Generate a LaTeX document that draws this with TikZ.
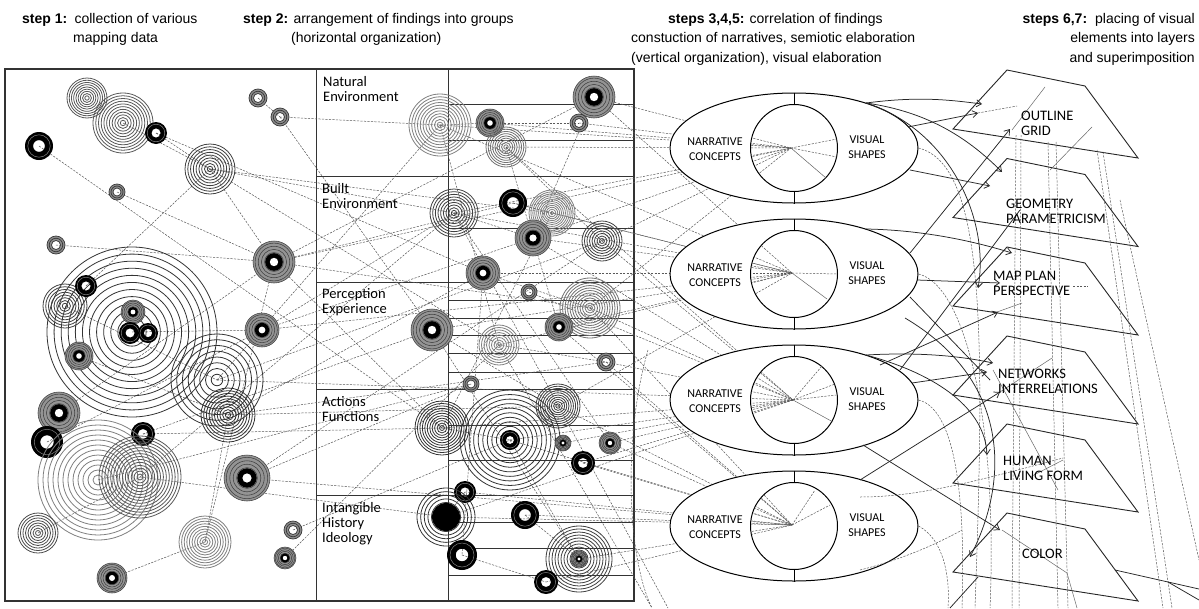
\documentclass[tikz,border=0pt]{standalone}
\usepackage{fontspec}
\setmainfont{Liberation Sans}
\newfontfamily\calib{Carlito}
\usetikzlibrary{arrows.meta,shapes.geometric,calc}
% concentric rings: name, rmax, n, colour
\newcommand\rg[4]{\foreach \k in {1,...,#3}{\draw[#4,line width=0.8pt] (#1) circle ({#2*\k/#3});}}
% dark cluster
\newcommand\dk[2]{\fill[black!42] (#1) circle (#2);
  \foreach \k in {0.3,0.45,0.6,0.75,0.9,1}{\draw[black!75,line width=0.55pt] (#1) circle ({#2*\k});}
  \fill[black] (#1) circle ({#2*0.42}); \fill[white] (#1) circle ({#2*0.2});}
% black donut
\newcommand\dn[2]{\fill[black,even odd rule] (#1) circle (#2) (#1) circle ({#2*0.42});
  \draw[black!50,line width=0.5pt] (#1) circle ({#2*0.8});}
% grey donut
\newcommand\gd[2]{\fill[black!45,even odd rule] (#1) circle (#2) (#1) circle ({#2*0.5});
  \draw[black!78,line width=0.7pt] (#1) circle (#2) (#1) circle ({#2*0.5}) (#1) circle ({#2*0.75});}
% connectors into the four ellipses
\newcommand\EOne{\foreach \s in {c33,c34,c30,c32,c31,c39,c42,c35,c10,c38}{\draw[conn] (\s) -- (f1);}}
\newcommand\ETwo{\foreach \s in {c35,c37,c38,c40,c44,c45,c50,c36,c43,c15,c33,c30}{\draw[conn] (\s) -- (f2);}}
\newcommand\EThree{\foreach \s in {c41,c42,c46,c48,c49,c51,c52,c53,c32,c17,c39,c38,c55}{\draw[conn] (\s) -- (f3);}}
\newcommand\EFour{\foreach \s in {c49,c50,c55,c56,c58,c59,c53,c54,c24,c42,c44,c46,c52}{\draw[conn] (\s) -- (f4);}}
\begin{document}
\begin{tikzpicture}[x=1pt,y=-1pt,
  conn/.style={black!65,line width=0.5pt,dash pattern=on 2.2pt off 1.3pt},
  frm/.style={black!80,line width=1.1pt},
  tbl/.style={black!80,line width=0.9pt},
  arr/.style={black!85,line width=0.75pt,-{Straight Barb[length=5pt,width=7pt]}},
  sol/.style={black!85,line width=0.75pt},
  gry/.style={black!60,line width=0.5pt},
  hd/.style={inner sep=0pt,font=\fontsize{14}{16}\selectfont},
  lab/.style={inner sep=0pt,font=\calib\fontsize{14.5}{15}\selectfont},
  el/.style={inner sep=0pt,font=\calib\fontsize{12}{14}\selectfont},
  pl/.style={inner sep=0pt,font=\calib\fontsize{14.5}{15}\selectfont},
  plane/.style={black!85,line width=0.9pt,line join=miter}]
\fill[white] (0,0) rectangle (1199,608);
\useasboundingbox (0,0) rectangle (1199,608);

% ---------- coordinates of ring clusters ----------
\foreach \n/\x/\y in {c1/87/98,c2/123/123,c3/156/133,c4/39/146,c5/258/98,c6/280/117,c7/210/169,
  c8/117/192,c9/56/245,c10/274/262,c11/132/332,c12/86/286,c13/65/306,c14/133/312,c14b/130/333,c14c/148/333,
  c15/262/330,c16/79/356,c17/217/380,c18/228/415,c19/59/413,c20/47/442,c21/143/434,c22/98/480,c23/140/477,
  c24/247/478,c25/38/533,c26/205/542,c27/112/578,c28/293/530,c29/285/558,
  c30/440/125,c31/490/123,c32/506/147,c33/594/97,c34/579/123,c35/454/213,c36/513/203,c37/552/213,
  c38/533/238,c39/602/241,c40/483/273,c41/529/292,c42/590/308,c43/432/330,c44/559/327,c45/499/345,
  c46/606/362,c47/471/384,c48/442/428,c49/510/440,c50/558/406,c51/563/443,c52/610/443,c53/583/463,
  c54/465/492,c55/446/517,c56/525/515,c57/462/555,c58/579/559,c59/546/582}
  {\coordinate (\n) at (\x,\y);}
\coordinate (f1) at (791,148);
\coordinate (f2) at (792,273);
\coordinate (f3) at (793,400);
\coordinate (f4) at (792,525);
\foreach \i/\cy in {1/148,2/274,3/400,4/526}{\coordinate (K\i) at (794,\cy);}
\coordinate (b1) at (652,608);
\coordinate (b2) at (668,608);

% ---------- headers ----------
\node[hd,anchor=base west] (h1) at (22,23) {\textbf{step 1:}\hspace{2pt} collection of various};
\node[hd,anchor=base west] (h1b) at (73,42) {mapping data};
\node[hd,anchor=base west] (h2) at (243,23) {\textbf{step 2:} arrangement of findings into groups};
\node[hd,anchor=base west] (h2b) at (291,42) {(horizontal organization)};
\node[hd,anchor=base west] (h3) at (668,23) {\textbf{steps 3,4,5:} correlation of findings};
\node[hd,anchor=base west] (h3b) at (631,42) {constuction of narratives, semiotic elaboration};
\node[hd,anchor=base west] (h3c) at (631,62) {(vertical organization), visual elaboration};
\node[hd,anchor=base east] (h4) at (1195,23) {\textbf{steps 6,7:}\hspace{8pt}placing of visual};
\node[hd,anchor=base east] (h4b) at (1195,42) {elements into layers};
\node[hd,anchor=base east] (h4c) at (1195,62) {and superimposition};

% ---------- frames ----------
\draw[frm] (5,69) rectangle (634,601);
\draw[tbl] (316,69) -- (316,601) (448,69) -- (448,601);
\foreach \y in {176,282,389,495}{\draw[tbl] (316,\y) -- (634,\y);}
\foreach \y in {104,140,228,300,318,335,353,372,425,460,522,548,575}{\draw[tbl,line width=0.7pt] (448,\y) -- (634,\y);}

% ---------- dashed connectors ----------
\foreach \a/\b in {c4/c48,c8/c10,c9/c10,c3/c7,c2/c7,c3/c40,c6/c30,c6/c43,c5/c6,c7/c35,c7/c37,c7/c10,
  c7/c45,c10/c36,c10/c48,c10/c33,c10/c42,c15/c35,c15/c38,c11/c15,c13/c17,c16/c18,c17/c30,c17/c39,
  c18/c40,c18/c50,c18/c46,c21/c43,c21/c48,c23/c35,c23/c55,c24/c39,c24/c47,c26/c18,c27/c26,c26/c10,
  c28/c49,c29/c45,c19/c10,c22/c47,c20/c15,c25/c23,c12/c7,
  c30/c31,c31/c34,c32/c39,c35/c38,c36/c37,c43/c50,c40/c42,c45/c46,c48/c49,c49/c58,c54/c55,c57/c59,
  c56/c58,c30/c45,c32/c44,c35/c52,c43/c58,c33/c38,c45/b1,c35/b2,c40/c57,c37/c48}
  {\draw[conn] (\a) -- (\b);}
\EOne \ETwo \EThree \EFour
\draw[conn] (648,350) .. controls (622,440) and (628,560) .. (b1);

% ---------- ring clusters ----------
\rg{c1}{20}{9}{black!65}
\rg{c2}{30}{11}{black!65}
\dn{c3}{11}
\dn{c4}{14}
\gd{c5}{9}
\gd{c6}{9}
\rg{c7}{25}{9}{black!75}
\gd{c8}{8}
\gd{c9}{9}
\dk{c10}{21}
\rg{c11}{85}{12}{black!80}
\rg{c13}{22}{8}{black!75}
\dn{c12}{11}
\dk{c14}{12} \dn{c14b}{11} \dn{c14c}{10}
\dk{c15}{17}
\dk{c16}{14}
\rg{c17}{46}{8}{black!80}
\rg{c18}{27}{10}{black!80}
\dk{c19}{21}
\dn{c20}{16}
\dn{c21}{12}
\rg{c22}{60}{12}{black!50}
\rg{c23}{41}{14}{black!65}
\dk{c24}{23}
\rg{c25}{20}{8}{black!70}
\rg{c26}{26}{10}{black!50}
\dk{c27}{15}
\gd{c28}{9}
\dk{c29}{11}
\rg{c30}{31}{11}{black!50}
\dk{c31}{14}
\rg{c32}{20}{9}{black!55}
\dk{c33}{21}
\gd{c34}{9}
\rg{c35}{24}{9}{black!75}
\dn{c36}{14}
\rg{c37}{23}{12}{black!50}
\dk{c38}{18}
\rg{c39}{20}{8}{black!75}
\dk{c40}{17}
\gd{c41}{8}
\rg{c42}{30}{12}{black!55}
\dk{c43}{21}
\dk{c44}{14}
\rg{c45}{20}{8}{black!50}
\gd{c46}{9}
\gd{c47}{8}
\rg{c48}{27}{11}{black!80}
\rg{c49}{50}{11}{black!80} \dn{c49}{10}
\rg{c50}{22}{10}{black!75}
\dk{c51}{8}
\dk{c52}{11}
\dn{c53}{12}
\dn{c54}{11}
\rg{c55}{29}{8}{black!80} \fill[black] (c55) circle (14);
\dn{c56}{14}
\dn{c57}{15}
\rg{c58}{33}{11}{black!75} \dk{c58}{8}
\dn{c59}{12}

% ---------- table labels ----------
\node[lab,anchor=base west] (t1a) at (323,86) {Natural};
\node[lab,anchor=base west] (t1b) at (323,101) {Environment};
\node[lab,anchor=base west] (t2a) at (322,193) {Built};
\node[lab,anchor=base west] (t2b) at (322,208) {Environment};
\node[lab,anchor=base west] (t3a) at (322,298) {Perception};
\node[lab,anchor=base west] (t3b) at (322,313) {Experience};
\node[lab,anchor=base west] (t4a) at (322,406) {Actions};
\node[lab,anchor=base west] (t4b) at (322,421) {Functions};
\node[lab,anchor=base west] (t5a) at (322,512) {Intangible};
\node[lab,anchor=base west] (t5b) at (322,527) {History};
\node[lab,anchor=base west] (t5c) at (322,542) {Ideology};

% ---------- ellipses ----------
\foreach \i in {1,...,4}{
  \node[draw,ellipse,fill=white,line width=1pt,minimum width=248,minimum height=110,inner sep=0pt] (E\i) at (K\i) {};
  \node[draw,circle,line width=1pt,minimum size=87,inner sep=0pt] (C\i) at (K\i) {};
  \draw[line width=1pt] (E\i.north) -- (C\i.north) (E\i.south) -- (C\i.south);
  \node[el,anchor=base] (Na\i) at ($(K\i)+(-79,-3)$) {NARRATIVE};
  \node[el,anchor=base] (Nb\i) at ($(K\i)+(-79,12)$) {CONCEPTS};
  \node[el,anchor=base] (Va\i) at ($(K\i)+(73,-5)$) {VISUAL};
  \node[el,anchor=base] (Vb\i) at ($(K\i)+(73,10)$) {SHAPES};
}
\begin{scope}\clip (K1) circle (43); \EOne \end{scope}
\begin{scope}\clip (K2) circle (43); \ETwo \end{scope}
\begin{scope}\clip (K3) circle (43); \EThree \end{scope}
\begin{scope}\clip (K4) circle (43); \EFour \end{scope}
\draw[conn] (f1) -- (837,139) (f1) -- (837,157);
\draw[gry] (f1) -- (826,178);
\draw[conn] (f2) -- (837,274);
\draw[gry] (f2) -- (827,299);
\draw[conn] (f3) -- (822,366) (f3) -- (835,384) (f3) -- (836,395);
\draw[gry] (f3) -- (833,422);
\draw[conn] (f4) -- (815,490) (f4) -- (830,505);

% ---------- layer planes ----------
\foreach \i/\y in {1/70,2/158.5,3/247,4/336,5/424,6/513}{
  \coordinate (P\i) at (1007,\y);
  \draw[plane] (P\i) -- ++(78,16) -- ++(53,72) -- ++(-185,-29) -- cycle;
}
% dashed verticals through the layers
\foreach \a/\b in {1016/1012,1021/1019}{\draw[conn] (\a,135) -- (\b,608);}
\draw[conn] (1048,142) -- (1058,608);
\draw[conn] (1056,142) -- (1068,608);
\draw[conn] (1097,150) -- (1163,608);
\draw[conn] (1103,152) -- (1172,608);
\draw[conn] (1120,200) -- (1199,560);
% dashed arcs from the ellipses
\draw[conn] (E1.east) .. controls (985,165) and (985,330) .. (975,608);
\draw[conn] (E2.east) .. controls (965,285) and (998,420) .. (990,608);
\draw[conn] (E3.east) .. controls (960,410) and (965,520) .. (962,608);
\draw[conn] (E4.east) .. controls (945,540) and (950,580) .. (948,608);
\draw[conn] (860,497) .. controls (920,497) and (980,480) .. (1063,458);
\draw[conn] (860,570) .. controls (900,560) and (935,545) .. (962,530);
\draw[conn] (978,113) -- (1017,106);
\draw[conn] (1073,286) -- (1088,286);
% solid connectors to the layers
\draw[arr] (866,103) .. controls (920,96) and (950,100) .. (982,104);
\draw[arr] (908,127) -- (978,113);
\draw[arr] (866,103) .. controls (930,112) and (970,140) .. (1002,172);
\draw[arr] (866,103) .. controls (950,130) and (990,220) .. (978,288);
\draw[arr] (910,170) -- (990,186);
\draw[arr] (910,253) -- (1010,129);
\draw[sol] (900,370) -- (1020,210);
\draw[arr] (866,229) .. controls (920,230) and (970,240) .. (1012,253);
\draw[arr] (917,280) -- (1000,283);
\draw[sol] (910,297) -- (990,380);
\draw[arr] (880,365) -- (998,312);
\draw[arr] (866,355) .. controls (920,352) and (960,356) .. (993,363);
\draw[arr] (912,383) -- (987,372);
\draw[arr] (866,355) .. controls (940,375) and (985,410) .. (987,455);
\draw[arr] (860,480) -- (1000,392);
\draw[arr] (863,445) -- (1000,530);
\draw[arr] (905,318) .. controls (1010,380) and (1010,480) .. (970,557);
\draw[sol] (950,608) -- (978,577);
\draw[sol] (1115,570) -- (1199,589);
\draw[sol] (1168,582) -- (1199,600);
% thin grey continuations inside the layers
\draw[gry] (1012,130) -- (1045,87);
\draw[gry] (1050,170) -- (1092,127);
\draw[gry] (997,312) -- (1022,303);
\draw[gry] (1000,392) -- (1052,358);
\draw[gry] (993,370) -- (1058,490);
\draw[gry] (1030,477) -- (1063,460);
\draw[gry] (1002,530) -- (1067,573) -- (1077,608);

% ---------- layer labels ----------
\node[pl,anchor=base west] (L1a) at (1021,120) {OUTLINE};
\node[pl,anchor=base west] (L1b) at (1021,135) {GRID};
\node[pl,anchor=base west] (L2a) at (1006,208) {GEOMETRY};
\node[pl,anchor=base west] (L2b) at (1006,223) {PARAMETRICISM};
\node[pl,anchor=base west] (L3a) at (993,280) {MAP PLAN};
\node[pl,anchor=base west] (L3b) at (993,295) {PERSPECTIVE};
\node[pl,anchor=base west] (L4a) at (998,378) {NETWORKS};
\node[pl,anchor=base west] (L4b) at (998,393) {INTERRELATIONS};
\node[pl,anchor=base west] (L5a) at (1003,465) {HUMAN};
\node[pl,anchor=base west] (L5b) at (1003,480) {LIVING FORM};
\node[pl,anchor=base west] (L6) at (1022,558) {COLOR};
\end{tikzpicture}
\end{document}
